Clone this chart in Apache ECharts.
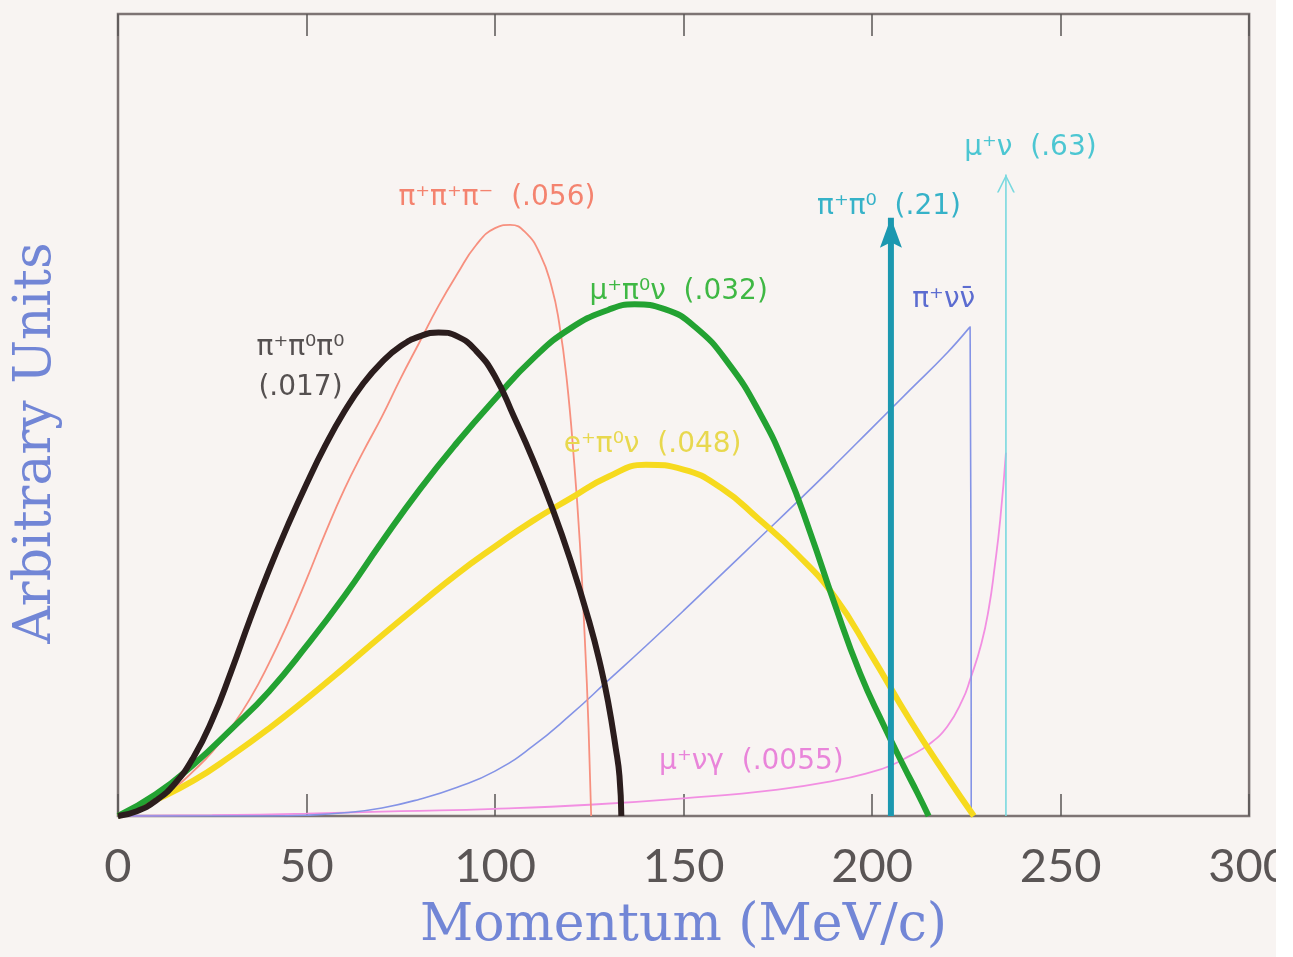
<!DOCTYPE html>
<html>
<head>
<meta charset="utf-8">
<script src="https://cdn.jsdelivr.net/npm/echarts@6/dist/echarts.min.js"></script>
<style>
html,body{margin:0;padding:0;background:#f8f4f2;}
#chart{width:1293px;height:957px;}
</style>
</head>
<body>
<div id="chart"></div>
<script>
// K+ decay spectra: momentum (MeV/c) vs. arbitrary units (0..100 = full frame height)
var pi0pi0Mom = [0, 5, 10, 15, 20, 25, 30, 35, 40, 45, 50, 55, 60, 65, 70, 75, 80, 85, 90, 95, 100, 105, 110, 115, 120, 125, 128, 130, 132, 133, 133.5];
var pi0pi0Val = [0, 0.6, 1.9, 4, 7.3, 12, 18, 24.5, 30.6, 36.2, 41.4, 46.2, 50.4, 53.9, 56.6, 58.6, 59.8, 60.3, 59.8, 58, 54.8, 49.8, 44.5, 38.6, 31.9, 24.2, 18.7, 14.2, 8.5, 5, 0];

var pipimMom = [0, 5, 10, 15, 20, 25, 30, 35, 40, 45, 50, 55, 60, 65, 70, 75, 80, 85, 90, 95, 100, 104, 108, 112, 115, 117, 119, 121, 122.5, 123.8, 124.8, 125.5];
var pipimVal = [0, 0.8, 2.1, 3.5, 5.6, 8, 11, 14.6, 19, 24, 29.5, 35.3, 40.7, 45.4, 49.8, 54.6, 59.1, 63.6, 67.6, 71.2, 73.3, 73.7, 72.8, 70, 66, 61.5, 54.5, 44, 34, 22.2, 11, 0];

var mupi0Mom = [0, 10, 20, 30, 40, 50, 60, 70, 80, 90, 100, 110, 120, 130, 137, 145, 153, 161.8, 170.5, 177.5, 183.7, 189.8, 196.8, 203, 208.4, 212, 215];
var mupi0Val = [0, 2.7, 6.4, 10.8, 15.5, 21.2, 27.4, 34.2, 40.7, 46.6, 52, 57, 60.8, 63.1, 63.8, 63.2, 61, 56.5, 50, 43, 35.2, 26.8, 17.8, 11.4, 6.2, 2.9, 0];

var epi0Mom = [0, 10, 20, 30, 40, 50, 60, 70, 80, 90, 100, 110, 120, 130, 140, 150, 160, 170, 180, 190, 200, 210, 220, 227];
var epi0Val = [0, 2, 4.4, 7.5, 10.9, 14.6, 18.5, 22.5, 26.4, 30.2, 33.6, 36.8, 39.6, 42.3, 43.8, 43.2, 40.9, 37, 32.7, 27.4, 19.9, 12, 4.8, 0];

var pinunuMom = [0, 40, 50, 60, 70, 80, 90, 100, 110, 120, 130, 140, 150, 160, 170, 180, 190, 200, 210, 220, 226, 226.3];
var pinunuVal = [0, 0, 0.1, 0.4, 1, 2.1, 3.6, 5.6, 8.7, 12.6, 16.9, 21.2, 25.6, 30.1, 34.6, 39.1, 43.7, 48.4, 53.1, 57.8, 61, 0];

var munugMom = [0, 25, 50, 75, 100, 125, 150, 175, 190, 200, 205, 210, 215, 220, 224, 226, 229, 231, 232.5, 234, 235.5];
var munugVal = [0, 0.1, 0.3, 0.6, 0.9, 1.4, 2.2, 3.3, 4.4, 5.5, 6.3, 7.5, 8.9, 11.2, 14.5, 17, 21.5, 26, 31, 37, 45.3];

// two-body lines drawn as arrows
var arrowMom = [205, 235.5];
var arrowTop = [74.6, 80];

var xTicks = [0, 50, 100, 150, 200, 250, 300];

var chart = echarts.init(document.getElementById('chart'));

function pairs(m, v) {
  return m.map(function (x, i) { return [x, v[i]]; });
}

function curve(name, mom, val, color, width, smooth) {
  return {
    name: name,
    type: 'line',
    data: pairs(mom, val),
    showSymbol: false,
    smooth: smooth,
    silent: true,
    lineStyle: { color: color, width: width },
    itemStyle: { color: color }
  };
}

// shaft from the axis to the tip, head drawn as the symbol of the top point
function arrow(i, color, width, head, headSize) {
  return {
    type: 'line',
    showSymbol: true,
    showAllSymbol: true,
    silent: true,
    lineStyle: { color: color, width: width },
    itemStyle: { color: color },
    data: [
      { value: [arrowMom[i], 0], symbol: 'none' },
      { value: [arrowMom[i], arrowTop[i]], symbol: head, symbolSize: headSize, symbolOffset: [0, headSize[1] / 2] }
    ]
  };
}

var tickFont = { fontFamily: 'Lato', fontSize: 47, color: '#5a5555' };

var option = {
  backgroundColor: '#f8f4f2',
  animation: false,
  grid: {
    left: 118, right: 41, top: 14, bottom: 140,
    show: true, borderColor: '#7d7474', borderWidth: 2.5, backgroundColor: 'transparent'
  },
  xAxis: [{
    type: 'value', min: 0, max: 300, interval: 50,
    axisLine: { show: false },
    axisTick: { show: true, inside: true, length: 22, lineStyle: { color: '#5a5555', width: 1.5 } },
    axisLabel: Object.assign({ margin: 27, customValues: xTicks }, tickFont),
    splitLine: { show: false },
    name: 'Momentum (MeV/c)',
    nameLocation: 'middle',
    nameGap: 84,
    nameTextStyle: { fontFamily: 'DejaVu Serif', fontSize: 52, color: '#7286d6' }
  }, {
    type: 'value', min: 0, max: 300, interval: 50, position: 'top',
    axisLine: { show: false },
    axisTick: { show: true, inside: true, length: 22, lineStyle: { color: '#5a5555', width: 1.5 } },
    axisLabel: { show: false },
    splitLine: { show: false }
  }],
  yAxis: {
    type: 'value', min: 0, max: 100,
    axisLine: { show: false }, axisTick: { show: false }, axisLabel: { show: false },
    splitLine: { show: false },
    name: 'Arbitrary Units',
    nameLocation: 'middle',
    nameGap: 56,
    nameTextStyle: { fontFamily: 'DejaVu Serif', fontSize: 52, color: '#7286d6', padding: [0, 56, 0, 0] }
  },
  series: [
    curve('mu nu gamma', munugMom, munugVal, '#f28fe2', 1.8, 0.5),
    curve('pi nu nubar', pinunuMom, pinunuVal, '#8493e6', 1.6, 0.5),
    curve('pi pi pi', pipimMom, pipimVal, '#f7907f', 1.8, 0.5),
    curve('e pi0 nu', epi0Mom, epi0Val, '#f6da1e', 6, 0.5),
    curve('mu pi0 nu', mupi0Mom, mupi0Val, '#23a232', 6, 0.5),
    curve('pi pi0 pi0', pi0pi0Mom, pi0pi0Val, '#2b1d1d', 6, 0.5),
    arrow(0, '#1c98b0', 6, 'path://M50,0 L100,100 L50,82 L0,100 Z', [22, 30]),
    arrow(1, '#79d9df', 1.6, 'path://M0,100 L50,0 L100,100 L90,100 L50,18 L10,100 Z', [18, 18])
  ]
};

chart.setOption(option);

// channel labels with branching ratios, anchored in data coordinates
var labelFont = '28px "DejaVu Sans"';
var notes = [
  { text: 'π⁺π⁺π⁻  (.056)', at: [100.5, 77.1], color: '#f4836f' },
  { text: 'μ⁺π⁰ν  (.032)', at: [148.7, 65.4], color: '#3fb844' },
  { text: 'π⁺π⁰π⁰\n(.017)', at: [48.4, 55.9], color: '#555050' },
  { text: 'e⁺π⁰ν  (.048)', at: [141.8, 46.3], color: '#e8d84e' },
  { text: 'π⁺νν̄', at: [219, 64.4], color: '#5c6cd0' },
  { text: 'π⁺π⁰  (.21)', at: [204.5, 76], color: '#36b2c8' },
  { text: 'μ⁺ν  (.63)', at: [242, 83.3], color: '#4cc6d2' },
  { text: 'μ⁺νγ  (.0055)', at: [168, 6.8], color: '#e985da' }
];

var graphics = notes.map(function (n) {
  var pt = chart.convertToPixel({ gridIndex: 0 }, n.at);
  return {
    type: 'text', x: pt[0], y: pt[1], z: 50, silent: true,
    style: { text: n.text, fill: n.color, font: labelFont, align: 'center', verticalAlign: 'middle', lineHeight: 40 }
  };
});
// white scanner margin on the right edge
graphics.push({ type: 'rect', z: 100, silent: true, shape: { x: 1276, y: 0, width: 17, height: 957 }, style: { fill: '#ffffff' } });

chart.setOption({ graphic: graphics });
</script>
</body>
</html>
